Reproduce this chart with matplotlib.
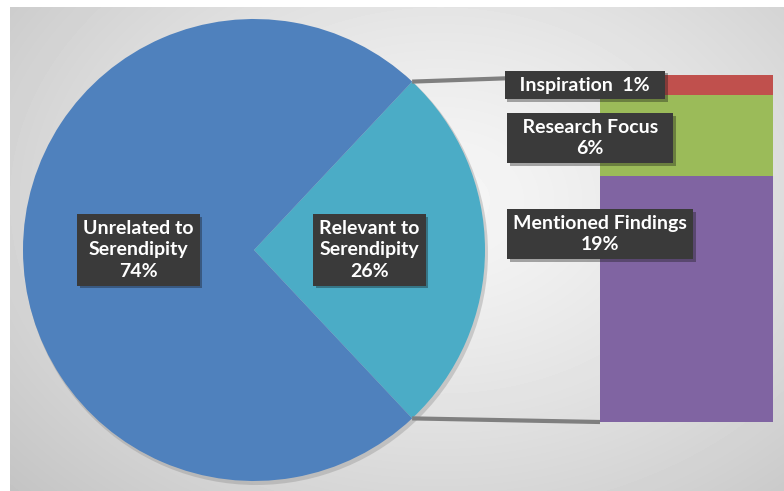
import numpy as np
import matplotlib
matplotlib.use("Agg")
import matplotlib.pyplot as plt
import matplotlib.patheffects as pe

# Pie: share of findings
pie_labels = ["Relevant to\nSerendipity\n26%", "Unrelated to\nSerendipity\n74%"]
pie_values = [26, 74]
pie_colors = ["#4bacc6", "#4f81bd"]

# Bar of pie: breakdown of the relevant part (bottom to top)
bar_labels = ["Mentioned Findings\n19%", "Research Focus\n6%", "Inspiration  1%"]
bar_values = [18.4, 6.1, 1.5]
bar_colors = ["#8064a2", "#9bbb59", "#c0504d"]

W, H = 784, 491
fig = plt.figure(figsize=(W / 100, H / 100), dpi=100)
fig.patch.set_facecolor("white")
ax = fig.add_axes([0, 0, 1, 1])

# background radial gradient (plot area)
yy, xx = np.mgrid[7:H + 1, 10:W]
d = np.hypot((xx - 440) / 520, (yy - 200) / 380)
shade = 0.965 - 0.17 * np.clip(d, 0, 1.2) ** 1.3
ax.imshow(shade, extent=(10, W, H + 1, 7), cmap="gray", vmin=0, vmax=1,
          aspect="auto", zorder=0, interpolation="bilinear")

# pie
cx, cy, r = 254, 250, 231
start = -pie_values[0] / sum(pie_values) * 360 / 2
shadow = plt.Circle((cx + 2, cy + 3), r + 1, color="#888888", alpha=0.35, zorder=1, lw=0)
ax.add_patch(shadow)
wedges, _ = ax.pie(pie_values, colors=pie_colors, startangle=start,
                   center=(cx, cy), radius=r, wedgeprops=dict(linewidth=0, zorder=2))

box = dict(boxstyle="square,pad=0.3", fc="#3a3a3a", ec="none")
txt = dict(color="white", fontsize=14, fontweight="bold", family=["Lato", "DejaVu Sans"],
           ha="center", va="center", linespacing=1.3, zorder=6)

def add_label(axis, x, y, s):
    t = axis.text(x, y, s, bbox=box, **txt)
    t.get_bbox_patch().set_path_effects(
        [pe.SimplePatchShadow(offset=(2, -2), alpha=0.35), pe.Normal()])
    return t

cum = 0
for lab, v in zip(pie_labels, pie_values):
    mid = np.deg2rad(start + (cum + v / 2) / sum(pie_values) * 360)
    add_label(ax, cx + 0.5 * r * np.cos(mid), cy + 0.5 * r * np.sin(mid), lab)
    cum += v

# bar of pie
bx0, bx1, by_top, by_bot = 600, 773, 75, 422
bax = fig.add_axes([bx0 / W, (H - by_bot) / H, (bx1 - bx0) / W, (by_bot - by_top) / H])
bottom = 0
for v, c in zip(bar_values, bar_colors):
    bax.bar(0, v, bottom=bottom, width=1, color=c, linewidth=0)
    bottom += v
bax.set_xlim(-0.5, 0.5)
bax.set_ylim(0, sum(bar_values))
bax.axis("off")
bax.set_zorder(3)

# connector lines
a = np.deg2rad(abs(start))
p_up = (cx + r * np.cos(a), cy - r * np.sin(a))
p_dn = (cx + r * np.cos(a), cy + r * np.sin(a))
ax.plot([p_up[0], bx0], [p_up[1], by_top], color="#7f7f7f", lw=3, zorder=3,
        solid_capstyle="butt")
ax.plot([p_dn[0], bx0], [p_dn[1], by_bot], color="#7f7f7f", lw=3, zorder=3,
        solid_capstyle="butt")

ax.set_xlim(0, W)
ax.set_ylim(H, 0)
ax.set_aspect("auto")
ax.axis("off")

# bar labels sit on top of the bar axes
lab_ax = fig.add_axes([0, 0, 1, 1], facecolor="none")
lab_ax.set_xlim(0, W)
lab_ax.set_ylim(H, 0)
lab_ax.axis("off")
lab_ax.set_zorder(5)
spots = [(600, 234, 0), (590, 138, 2), (585, 85, 2)]
for (x, y, extra), lab in zip(spots, bar_labels):
    lines = lab.split("\n")
    lines[0] = " " * extra + lines[0] + " " * extra
    add_label(lab_ax, x, y, "\n".join(lines))

fig.savefig("out.png", dpi=100)
